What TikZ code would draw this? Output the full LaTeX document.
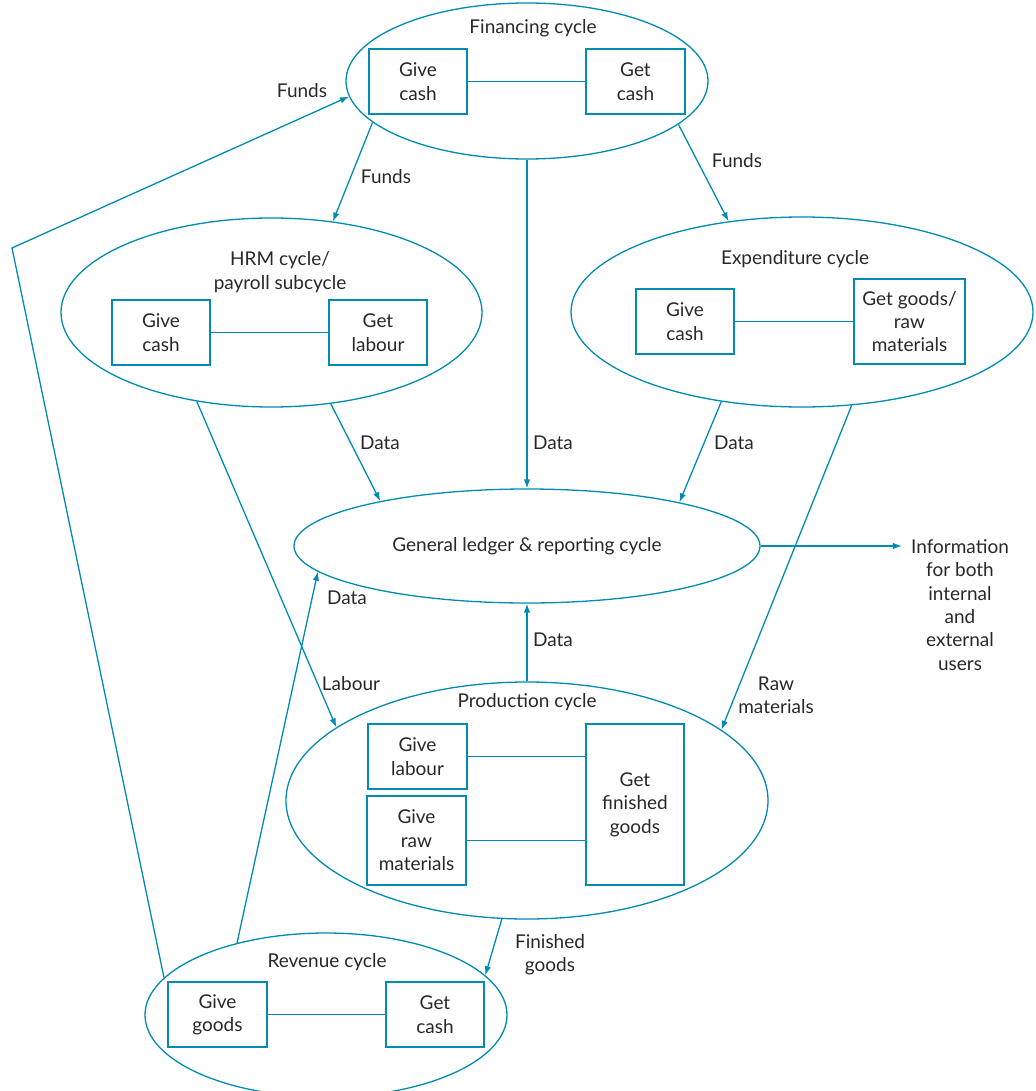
\documentclass[tikz,border=0pt]{standalone}
\usepackage{fontspec}
\setmainfont{Lato}
\usetikzlibrary{shapes.geometric,arrows.meta}
\definecolor{cyc}{RGB}{0,139,178}
\definecolor{txt}{RGB}{40,40,40}
\begin{document}
\begin{tikzpicture}[x=1pt,y=-1pt,
  every node/.style={font=\fontsize{19}{23.4}\selectfont},
  cycle/.style={ellipse, draw=cyc, line width=1.3pt, inner sep=0pt, text=txt},
  box/.style={rectangle, draw=cyc, line width=1.6pt, inner sep=0pt, align=center, text=txt},
  lbl/.style={text=txt, align=center, inner sep=0pt},
  arr/.style={draw=cyc, line width=1.3pt, -{Latex[length=9pt,width=6.5pt]}},
  link/.style={draw=cyc, line width=1.3pt}]
\useasboundingbox (0,0) rectangle (1035,1091);

% cycles
\node[cycle, minimum width=362pt, minimum height=156pt] (fin) at (527,81) {};
\node[cycle, minimum width=421pt, minimum height=189pt] (hrm) at (271.5,312.5) {};
\node[cycle, minimum width=462pt, minimum height=190pt] (exp) at (802,312) {};
\node[cycle, minimum width=466pt, minimum height=114pt] (gl) at (527,546) {General ledger \& reporting cycle};
\node[cycle, minimum width=482pt, minimum height=237pt] (prod) at (527,800.5) {};
\node[cycle, minimum width=362pt, minimum height=164pt] (rev) at (326,1015) {};

% titles
\node[lbl] (tfin) at (533,28) {Financing cycle};
\node[lbl] (thrm) at (280,272) {HRM cycle/\\payroll subcycle};
\node[lbl] (texp) at (795,259) {Expenditure cycle};
\node[lbl] (tprod) at (527,702) {Production cycle};
\node[lbl] (trev) at (327,962) {Revenue cycle};

% boxes
\node[box, minimum width=98pt, minimum height=65pt] (fgive) at (418,81.5) {Give\\cash};
\node[box, minimum width=99pt, minimum height=65pt] (fget) at (635.5,81.5) {Get\\cash};
\node[box, minimum width=98pt, minimum height=65pt] (hgive) at (161,332.5) {Give\\cash};
\node[box, minimum width=98pt, minimum height=65pt] (hget) at (378,332.5) {Get\\labour};
\node[box, minimum width=98pt, minimum height=65pt] (egive) at (685,321.5) {Give\\cash};
\node[box, minimum width=111pt, minimum height=85pt] (eget) at (909.5,321.5) {Get goods/\\raw\\materials};
\node[box, minimum width=99pt, minimum height=65pt] (plab) at (417.5,756.5) {Give\\labour};
\node[box, minimum width=99pt, minimum height=89pt] (praw) at (416.5,840.5) {Give\\raw\\materials};
\node[box, minimum width=98pt, minimum height=161pt] (pget) at (635,804.5) {Get\\finished\\goods};
\node[box, minimum width=99pt, minimum height=65pt] (rgive) at (217.5,1014.5) {Give\\goods};
\node[box, minimum width=98pt, minimum height=65pt] (rget) at (435,1014.5) {Get\\cash};

% links inside cycles
\draw[link] (fgive.east) -- (fget.west);
\draw[link] (hgive.east) -- (hget.west);
\draw[link] (egive.east) -- (eget.west);
\draw[link] (plab.east) -- (plab.east -| pget.west);
\draw[link] (praw.east) -- (praw.east -| pget.west);
\draw[link] (rgive.east) -- (rget.west);

% output text
\node[lbl] (info) at (960,605) {Information\\for both\\internal\\and\\external\\users};

% connectors
\coordinate (fc) at (12,248);
\draw[arr] (rev.167.2) -- (fc) -- (fin.185);
\draw[arr] (fin.195.4) -- (hrm.56.8);
\draw[arr] (fin.344.6) -- (exp.129.2);
\draw[arr] (fin.270) -- (gl.90);
\draw[arr] (hrm.303.2) -- (gl.163.5);
\draw[arr] (exp.228.7) -- (gl.16.7);
\draw[arr] (gl.east) -- ([xshift=-9pt]gl.east -| info.west);
\draw[arr] (hrm.230.2) -- (prod.159.4);
\draw[arr] (exp.298.5) -- (prod.20.7);
\draw[arr] (prod.90) -- (gl.270);
\draw[arr] (prod.258.6) -- (rev.14.2);
\draw[arr] (rev.141) -- (gl.187.3);

% connector labels
\node[lbl] (l1) at (302,91) {Funds};
\node[lbl] (l2) at (386,177) {Funds};
\node[lbl] (l3) at (737,161) {Funds};
\node[lbl] (l4) at (380,443) {Data};
\node[lbl] (l5) at (553,443) {Data};
\node[lbl] (l6) at (734,443) {Data};
\node[lbl] (l7) at (347,598) {Data};
\node[lbl] (l8) at (553,640) {Data};
\node[lbl] (l9) at (351,684) {Labour};
\node[lbl] (l10) at (776,695) {Raw\\materials};
\node[lbl] (l11) at (550,955) {Finished\\goods};
\end{tikzpicture}
\end{document}
